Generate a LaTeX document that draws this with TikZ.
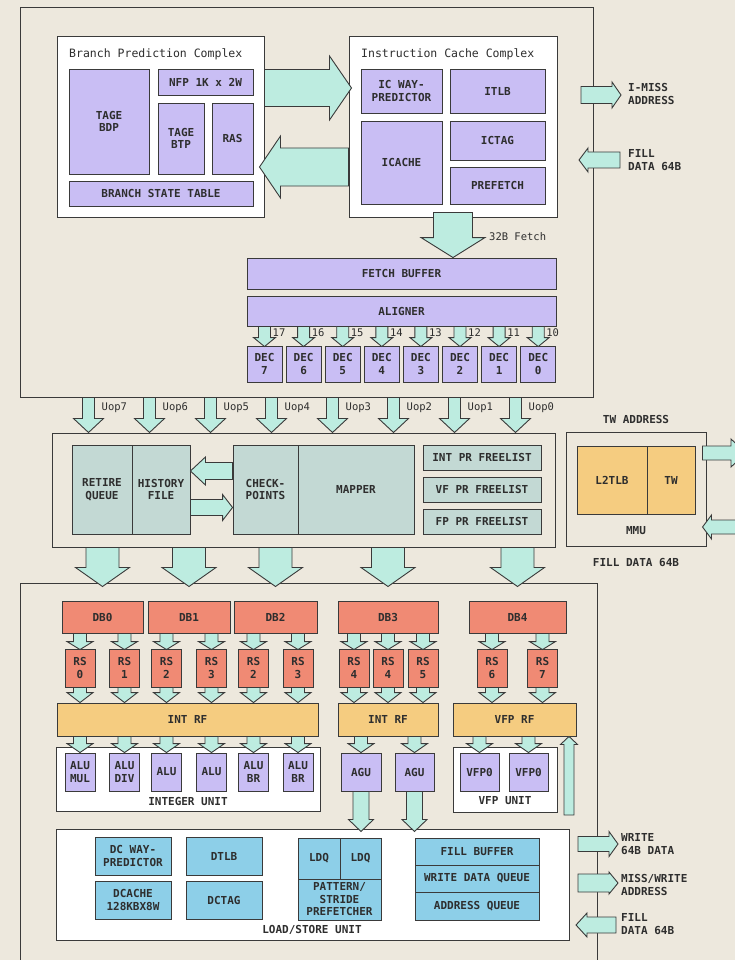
\documentclass[tikz,border=0pt]{standalone}
\usepackage{fontspec}
\setmonofont{DejaVu Sans Mono}
\usepackage{tikz}
\usetikzlibrary{calc}
\definecolor{bgC}{HTML}{EDE8DD}
\definecolor{lineC}{HTML}{3A3A3A}
\definecolor{txtC}{HTML}{2E2E2E}
\definecolor{purC}{HTML}{C9BEF4}
\definecolor{arrC}{HTML}{BDECE0}
\definecolor{grnC}{HTML}{C3D9D4}
\definecolor{salC}{HTML}{F08A74}
\definecolor{yelC}{HTML}{F5CC80}
\definecolor{bluC}{HTML}{8DCFE8}
\newcommand\boxfont{\ttfamily\bfseries\fontsize{11}{12.5}\selectfont}
\newcommand\ttlfont{\ttfamily\fontsize{11.5}{13}\selectfont}
\newcommand\tagfont{\ttfamily\fontsize{10.5}{12}\selectfont}
\newcommand\fatv[5]{%
  \draw[fat] let \p1=#1, \p2=#2, \n1={ifthenelse(\y1>\y2,1,-1)} in
    ({\x2-#3pt},\y1) -- ({\x2-#3pt},{\y2+\n1*#5pt}) -- ({\x2-#4pt},{\y2+\n1*#5pt})
    -- (\x2,\y2) -- ({\x2+#4pt},{\y2+\n1*#5pt}) -- ({\x2+#3pt},{\y2+\n1*#5pt})
    -- ({\x2+#3pt},\y1) -- cycle;}
\newcommand\fath[5]{%
  \draw[fat] let \p1=#1, \p2=#2, \n1={ifthenelse(\x1>\x2,1,-1)} in
    (\x1,{\y2+#3pt}) -- ({\x2+\n1*#5pt},{\y2+#3pt}) -- ({\x2+\n1*#5pt},{\y2+#4pt})
    -- (\x2,\y2) -- ({\x2+\n1*#5pt},{\y2-#4pt}) -- ({\x2+\n1*#5pt},{\y2-#3pt})
    -- (\x1,{\y2-#3pt}) -- cycle;}

\begin{document}
\begin{tikzpicture}[x=1pt, y=-1pt,
  wh/.style 2 args={minimum width=#1, minimum height=#2},
  frame/.style={draw=lineC, line width=1pt, inner sep=0},
  cplx/.style={frame, fill=white},
  blk/.style={draw=lineC, line width=0.9pt, inner sep=0, align=center, font=\boxfont, text=txtC},
  pur/.style={blk, fill=purC}, grn/.style={blk, fill=grnC}, sal/.style={blk, fill=salC},
  yel/.style={blk, fill=yelC}, blu/.style={blk, fill=bluC},
  fat/.style={draw=lineC, line width=0.9pt, fill=arrC, line join=miter},
  tag/.style={font=\boxfont, text=txtC, align=left, inner sep=0},
  utag/.style={font=\tagfont, text=txtC, inner sep=0, anchor=west},
  ttl/.style={font=\ttlfont, text=txtC, inner sep=0, anchor=west}]
\fill[bgC] (0,0) rectangle (735,960);
\useasboundingbox (0,0) rectangle (735,960);
\clip (0,0) rectangle (735,960);

\node[frame, wh={573}{389}] (fe) at (306.5,202.5) {};
\node[cplx, wh={207}{180}] (bpc) at (160.5,127) {};
\node[ttl] (bpct) at (69,54) {Branch Prediction Complex};
\node[pur, wh={80}{105}] (bdp) at (109,121.5) {TAGE\\BDP};
\node[pur, wh={95}{26}] (nfp) at (205.5,82) {NFP 1K x 2W};
\node[pur, wh={46}{71}] (btp) at (181,138.5) {TAGE\\BTP};
\node[pur, wh={41}{71}] (ras) at (232.5,138.5) {RAS};
\node[pur, wh={184}{25}] (bst) at (161,193.5) {BRANCH STATE TABLE};
\node[cplx, wh={208}{180}] (icc) at (453,127) {};
\node[ttl] (icct) at (361,54) {Instruction Cache Complex};
\node[pur, wh={81}{44}] (icwp) at (401.5,91) {IC WAY-\\PREDICTOR};
\node[pur, wh={95}{44}] (itlb) at (497.5,91) {ITLB};
\node[pur, wh={81}{83}] (icache) at (401.5,162.5) {ICACHE};
\node[pur, wh={95}{39}] (ictag) at (497.5,140.5) {ICTAG};
\node[pur, wh={95}{37}] (pref) at (497.5,185.5) {PREFETCH};
\node[pur, wh={309}{31}] (fbuf) at (401.5,273.5) {FETCH BUFFER};
\node[pur, wh={309}{30}] (algn) at (401.5,311) {ALIGNER};
\foreach \k in {0,...,7}
  \node[pur, wh={35}{36}] (dec\k) at ({264.5+39.1*(7-\k)},364) {DEC\\\k};
\node[utag] (fetch32) at (489,237) {32B Fetch};
\node[tag, anchor=west] (imiss) at (628,94) {I-MISS\\ADDRESS};
\node[tag, anchor=west] (ifill) at (628,160) {FILL\\DATA 64B};

\node[frame, wh={503}{114}] (ren) at (303.5,490) {};
\node[grn, wh={60}{89}] (rq) at (102,489.5) {RETIRE\\QUEUE};
\node[grn, wh={58}{89}] (hf) at (161,489.5) {HISTORY\\FILE};
\node[grn, wh={65}{89}] (cp) at (265.5,489.5) {CHECK-\\POINTS};
\node[grn, wh={116}{89}] (map) at (356,489.5) {MAPPER};
\node[grn, wh={118}{25}] (intfl) at (482,457.5) {INT PR FREELIST};
\node[grn, wh={118}{25}] (vffl) at (482,489.5) {VF PR FREELIST};
\node[grn, wh={118}{25}] (fpfl) at (482,521.5) {FP PR FREELIST};

\node[frame, wh={140}{114}] (mmu) at (636,489) {};
\node[yel, wh={70}{68}] (l2tlb) at (612,480) {L2TLB};
\node[yel, wh={48}{68}] (tw) at (671,480) {TW};
\node[tag] (mmut) at (636,531) {MMU};
\node[tag] (twa) at (636,419) {TW ADDRESS};
\node[tag] (mfill) at (636,563) {FILL DATA 64B};

\node[frame, wh={577}{400}] (be) at (308.5,783) {};
\node[sal, wh={81}{32}] (db0) at (102.5,617) {DB0};
\node[sal, wh={82}{32}] (db1) at (189,617) {DB1};
\node[sal, wh={83}{32}] (db2) at (275.5,617) {DB2};
\node[sal, wh={100}{32}] (db3) at (388,617) {DB3};
\node[sal, wh={97}{32}] (db4) at (517.5,617) {DB4};
\foreach \x/\t [count=\i] in {80/0,124.5/1,166.5/2,211.5/3,253.5/2,298/3,354/4,388/4,423/5,492/6,542.5/7}
  \node[sal, wh={30}{38}] (rs\i) at (\x,668) {RS\\\t};
\node[yel, wh={261}{33}] (irf) at (187.5,719.5) {INT RF};
\node[yel, wh={100}{33}] (arf) at (388,719.5) {INT RF};
\node[yel, wh={123}{33}] (vrf) at (514.5,719.5) {VFP RF};
\node[cplx, wh={264}{64}] (iu) at (188,779) {};
\node[tag] (iut) at (188,801) {INTEGER UNIT};
\foreach \x/\t [count=\i] in {80/{ALU\\MUL},124.5/{ALU\\DIV},166.5/ALU,211.5/ALU,253.5/{ALU\\BR},298/{ALU\\BR}}
  \node[pur, wh={30}{38}] (alu\i) at (\x,772) {\t};
\node[pur, wh={40}{38}] (agu1) at (361,772) {AGU};
\node[pur, wh={39}{38}] (agu2) at (414.5,772) {AGU};
\node[cplx, wh={104}{65}] (vu) at (505,779.5) {};
\node[tag] (vut) at (505,801) {VFP UNIT};
\node[pur, wh={39}{38}] (vfp1) at (479.5,772) {VFP0};
\node[pur, wh={39}{38}] (vfp2) at (528.5,772) {VFP0};

\node[cplx, wh={513}{111}] (lsu) at (312.5,884.5) {};
\node[tag] (lsut) at (312,930) {LOAD/STORE UNIT};
\node[blu, wh={76}{38}] (dcwp) at (133,856) {DC WAY-\\PREDICTOR};
\node[blu, wh={76}{38}] (dtlb) at (224,856) {DTLB};
\node[blu, wh={76}{38}] (dc) at (133,900) {DCACHE\\128KBX8W};
\node[blu, wh={76}{38}] (dctag) at (224,900) {DCTAG};
\node[blu, wh={42}{41}] (ldq1) at (319,858.5) {LDQ};
\node[blu, wh={41}{41}] (ldq2) at (360.5,858.5) {LDQ};
\node[blu, wh={83}{41}] (pat) at (339.5,899.5) {PATTERN/\\STRIDE\\PREFETCHER};
\node[blu, wh={124}{27}] (fb) at (477,851.5) {FILL BUFFER};
\node[blu, wh={124}{27}] (wdq) at (477,878.5) {WRITE DATA QUEUE};
\node[blu, wh={124}{28}] (aq) at (477,906) {ADDRESS QUEUE};
\node[tag, anchor=west] (wr) at (621,844) {WRITE\\64B DATA};
\node[tag, anchor=west] (mw) at (621,885) {MISS/WRITE\\ADDRESS};
\node[tag, anchor=west] (lfill) at (621,924) {FILL\\DATA 64B};

\coordinate (imissS) at (581,95);
\coordinate (ifillS) at (620,160);
\coordinate (twOut) at (746,453);
\coordinate (mfillS) at (760,527);
\coordinate (vup) at (569,815);
\coordinate (wrS) at (578,844);
\coordinate (mwS) at (578,883);
\coordinate (lfillS) at (616,925);

\fath{(bpc.east |- 0,88)}{($(icc.west |- 0,88)+(3,0)$)}{18.5}{32}{22}
\fath{(icc.west |- 0,167)}{($(bpc.east |- 0,167)+(-5,0)$)}{19}{31}{21}
\fath{(imissS)}{($(imiss.west)+(-7,1)$)}{8.5}{13}{9}
\fath{(ifillS)}{(579,160)}{8}{12}{9}
\fatv{($(icc.south)+(0,-5)$)}{(icc.south |- fbuf.north)}{19.5}{32}{20}
\foreach \k in {0,...,7}{
  \fatv{(dec\k |- algn.south)}{($(dec\k.north)+(0,1)$)}{6}{11}{9}
  \node[utag] (ln\k) at ($(dec\k.north)+(8,-13)$) {1\k};
}
\foreach \k [evaluate=\k as \ux using {88.5+61*(7-\k)}] in {0,...,7}{
  \fatv{(\ux,0 |- fe.south)}{(\ux,0 |- ren.north)}{6}{15}{14}
  \node[utag] (uop\k) at (\ux+13,408) {Uop\k};
}
\fath{(cp.west |- 0,471)}{(hf.east |- 0,471)}{8.5}{14}{15}
\fath{(hf.east |- 0,507.5)}{(cp.west |- 0,507.5)}{8}{13}{10}
\fath{($(mmu.east |- 0,453)+(-4,0)$)}{(twOut)}{7}{14}{15}
\fath{(mfillS)}{($(mmu.east |- 0,527)+(-4,0)$)}{7}{12}{9}
\foreach \d in {0,...,4}{
  \fatv{(db\d |- ren.south)}{($(db\d |- be.north)+(0,4)$)}{16.5}{27}{19}
}
\foreach \r/\d in {1/0,2/0,3/1,4/1,5/2,6/2,7/3,8/3,9/3,10/4,11/4}{
  \fatv{(rs\r |- db\d.south)}{($(rs\r.north)+(0,1)$)}{6.5}{13}{8}
}
\foreach \r/\f in {1/irf,2/irf,3/irf,4/irf,5/irf,6/irf,7/arf,8/arf,9/arf,10/vrf,11/vrf}{
  \fatv{(rs\r.south)}{(rs\r |- \f.north)}{6.5}{13}{10}
}
\foreach \i in {1,...,6}{
  \fatv{(alu\i |- irf.south)}{(alu\i.north)}{6.5}{13}{9}
}
\foreach \i in {1,2}{
  \fatv{(agu\i |- arf.south)}{(agu\i.north)}{6.5}{13}{9}
  \fatv{(vfp\i |- vrf.south)}{(vfp\i.north)}{6.5}{13}{9}
  \fatv{(agu\i.south)}{($(agu\i |- lsu.north)+(0,3)$)}{8}{12.5}{12}
}
\fatv{(vup)}{(vup |- vrf.south)}{5}{8.5}{8}
\fath{(wrS)}{(618,844)}{7.5}{12.5}{9}
\fath{(mwS)}{(618,883)}{9}{11}{9}
\fath{(lfillS)}{(576,925)}{8}{12}{11}
\end{tikzpicture}
\end{document}
